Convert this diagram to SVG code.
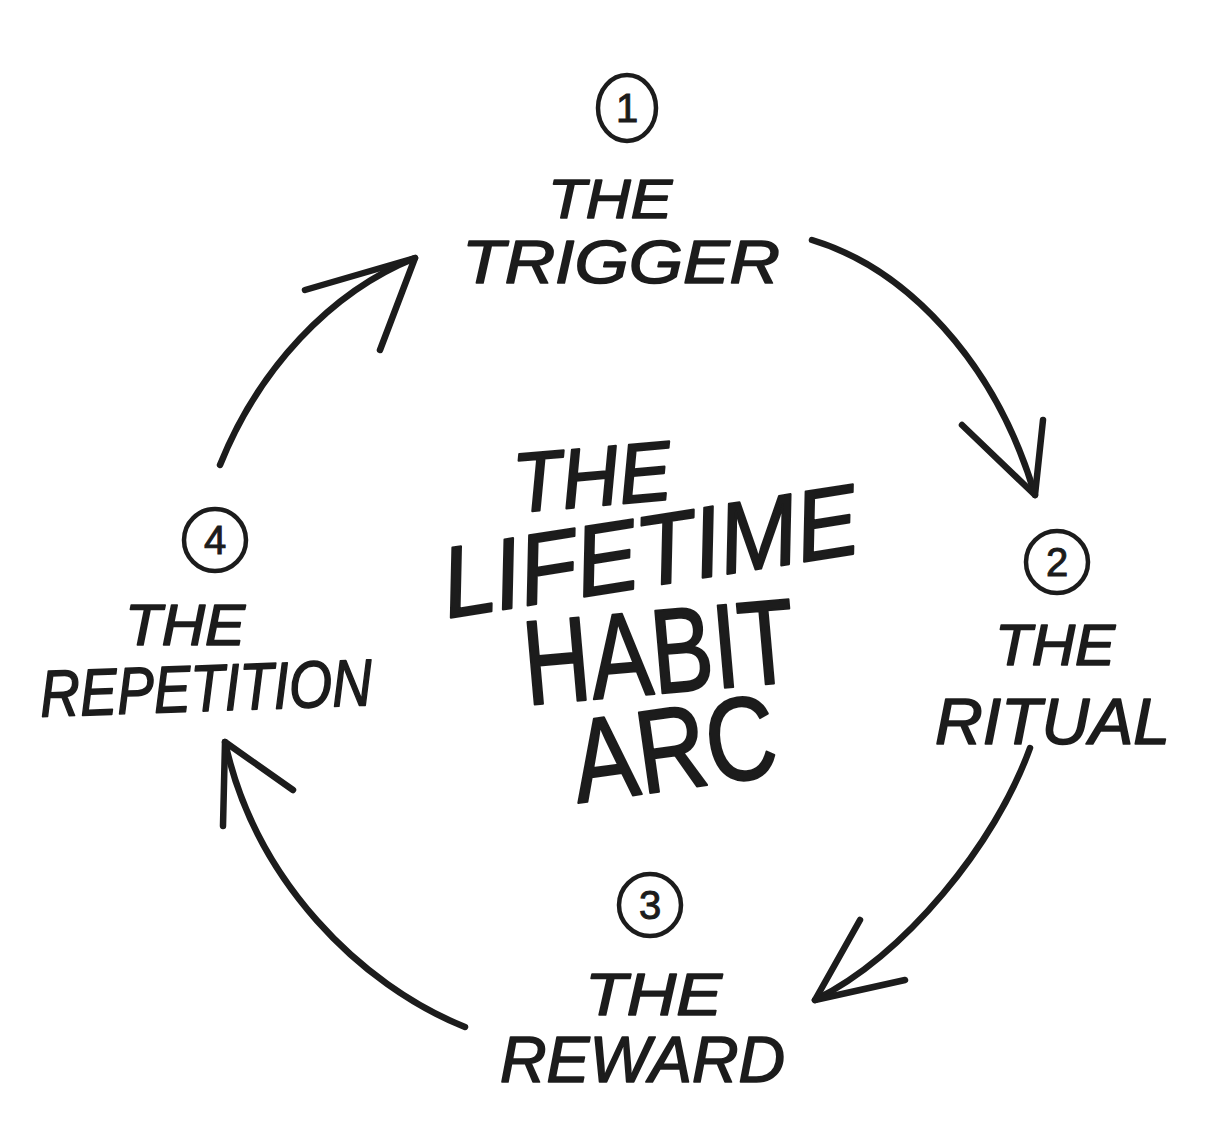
<svg xmlns="http://www.w3.org/2000/svg" width="1206" height="1136" viewBox="0 0 1206 1136">
<style>
.bg{fill:#ffffff}
.lbl{font-family:"Liberation Sans",Arial,sans-serif;font-style:italic;fill:#1c1c1c;stroke:#1c1c1c;stroke-width:1.6;stroke-linejoin:round}
.ctr{font-family:"Liberation Sans",Arial,sans-serif;fill:#1c1c1c;stroke:#1c1c1c;stroke-width:2.2;stroke-linejoin:round}
.num{font-family:"Liberation Sans",Arial,sans-serif;font-size:40px;fill:#1c1c1c;stroke:#1c1c1c;stroke-width:1;text-anchor:middle}
.ring{fill:none;stroke:#1c1c1c;stroke-width:4.5}
.arc{fill:none;stroke:#1c1c1c;stroke-width:6.5;stroke-linecap:round;stroke-linejoin:round}
</style>
<rect class="bg" x="0" y="0" width="1206" height="1136"/>

<g id="connectors">
  <path class="arc" d="M 812 240 C 905 268, 995 360, 1035 495"/>
  <path class="arc" d="M 962 425 L 1035 495 L 1043 420"/>
  <path class="arc" d="M 1030 748 C 995 845, 905 955, 815 1000"/>
  <path class="arc" d="M 860 920 L 815 1000 L 905 980"/>
  <path class="arc" d="M 465 1027 C 360 985, 255 880, 225 742"/>
  <path class="arc" d="M 223 826 L 225 742 L 293 790"/>
  <path class="arc" d="M 220 465 C 258 370, 330 292, 415 258"/>
  <path class="arc" d="M 305 290 L 415 258 L 380 350"/>
</g>

<g id="node-trigger">
  <ellipse class="ring" cx="627" cy="108" rx="29" ry="33"/>
  <text class="num" x="627" y="122">1</text>
  <text class="lbl" x="548" y="218" font-size="56" textLength="124" lengthAdjust="spacingAndGlyphs">THE</text>
  <text class="lbl" x="462" y="283" font-size="62" textLength="318" lengthAdjust="spacingAndGlyphs">TRIGGER</text>
</g>

<g id="node-ritual">
  <circle class="ring" cx="1057" cy="562" r="31"/>
  <text class="num" x="1057" y="576">2</text>
  <text class="lbl" x="995" y="665" font-size="58" textLength="120" lengthAdjust="spacingAndGlyphs">THE</text>
  <text class="lbl" x="935" y="744" font-size="64" textLength="235" lengthAdjust="spacingAndGlyphs">RITUAL</text>
</g>

<g id="node-reward">
  <circle class="ring" cx="650" cy="905" r="31"/>
  <text class="num" x="650" y="919">3</text>
  <text class="lbl" x="585" y="1015" font-size="60" textLength="137" lengthAdjust="spacingAndGlyphs">THE</text>
  <text class="lbl" x="500" y="1082" font-size="64" textLength="285" lengthAdjust="spacingAndGlyphs">REWARD</text>
</g>

<g id="node-repetition">
  <circle class="ring" cx="215" cy="540" r="31"/>
  <text class="num" x="215" y="554">4</text>
  <text class="lbl" x="125" y="645" font-size="58" textLength="120" lengthAdjust="spacingAndGlyphs">THE</text>
  <text class="lbl" x="40" y="711" font-size="66" textLength="332" lengthAdjust="spacingAndGlyphs" transform="rotate(-2 206 690)">REPETITION</text>
</g>

<g id="node-title">
  <text class="ctr" font-style="italic" x="513" y="506" font-size="84" textLength="158" lengthAdjust="spacingAndGlyphs" transform="rotate(-5 590 475)">THE</text>
  <text class="ctr" font-style="italic" x="448" y="618" font-size="100" textLength="420" lengthAdjust="spacingAndGlyphs" transform="rotate(-9 448 618)">LIFETIME</text>
  <text class="ctr" x="527" y="705" font-size="120" textLength="272" lengthAdjust="spacingAndGlyphs" transform="rotate(-5 527 705)">HABIT</text>
  <text class="ctr" x="578" y="803" font-size="118" textLength="205" lengthAdjust="spacingAndGlyphs" transform="rotate(-8 578 803)">ARC</text>
</g>
</svg>
